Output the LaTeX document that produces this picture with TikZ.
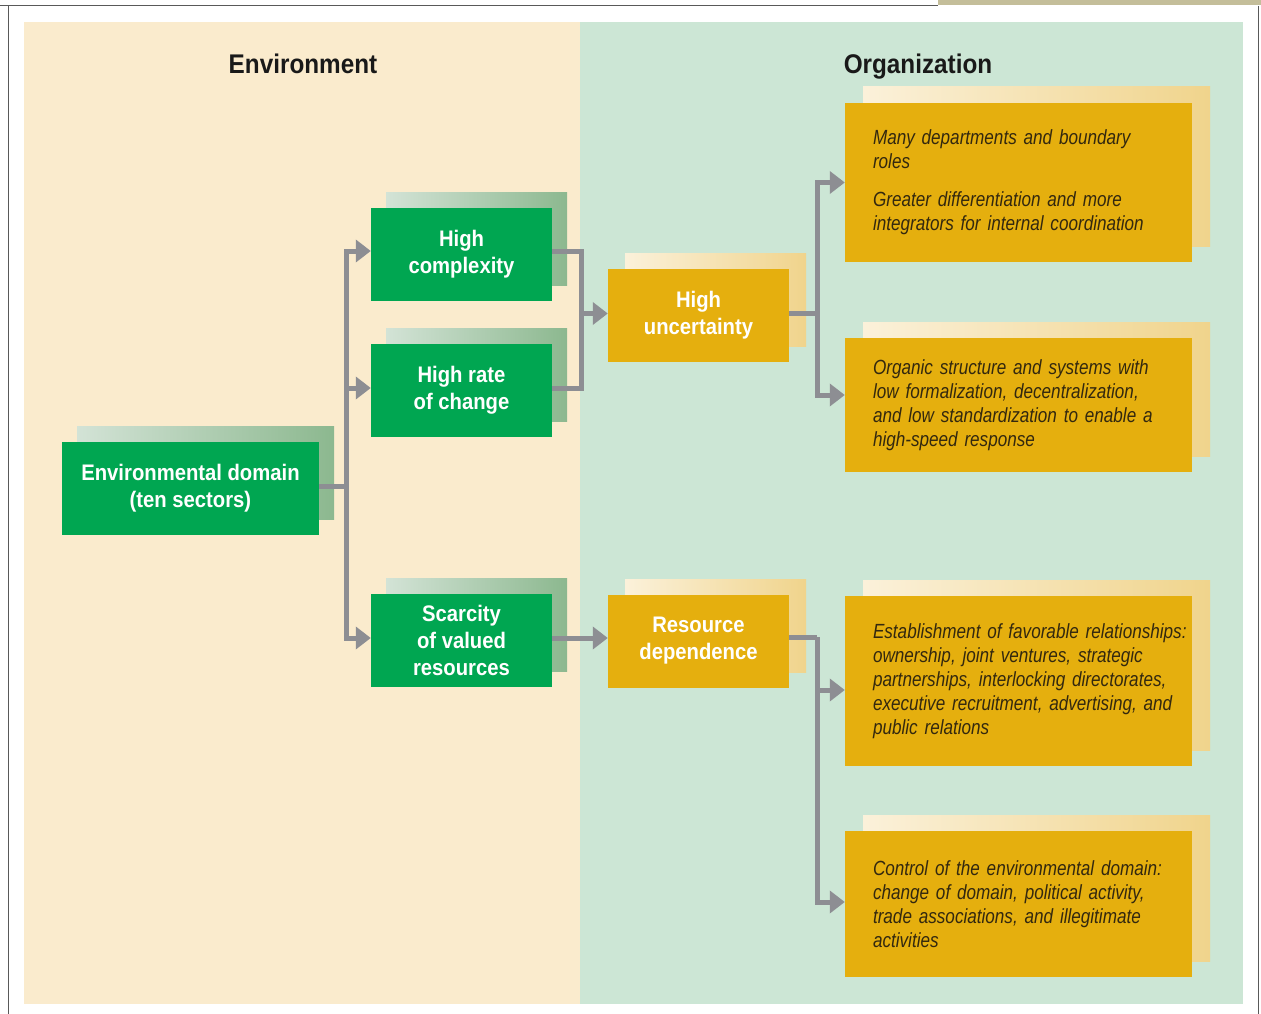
\documentclass[tikz,border=0pt]{standalone}
\usepackage{fontspec}
\setmainfont[FakeStretch=0.9]{Liberation Sans}
\newfontfamily\slimfont[FakeStretch=0.835]{Liberation Sans}
\usepackage{tikz}
\usetikzlibrary{positioning, shadows, calc, arrows.meta}
\definecolor{Sand}{HTML}{FAEBCD}
\definecolor{Mint}{HTML}{CCE6D5}
\definecolor{Leaf}{HTML}{00A651}
\definecolor{LeafLight}{HTML}{D3E3D6}
\definecolor{LeafDark}{HTML}{8CB88F}
\definecolor{Gold}{HTML}{E5AF0E}
\definecolor{GoldLight}{HTML}{FBF1DA}
\definecolor{GoldDark}{HTML}{F0D48C}
\definecolor{Pipe}{HTML}{8D8E93}
\definecolor{Ink}{HTML}{33280F}
\definecolor{Khaki}{HTML}{C4BE9A}
\newcommand{\padl}{\leftskip=24pt\relax}

\begin{document}
\begin{tikzpicture}[x=1pt, y=-1pt,
    greenbox/.style={rectangle, fill=Leaf, text=white, align=center, inner sep=0pt,
        font=\bfseries\fontsize{22.5}{27}\selectfont, minimum width=181, minimum height=93,
        general shadow={shadow xshift=15pt, shadow yshift=15pt, left color=LeafLight, right color=LeafDark}},
    goldbox/.style={rectangle, fill=Gold, text=white, align=center, inner sep=0pt,
        font=\bfseries\fontsize{22.5}{27}\selectfont, minimum width=181, minimum height=93,
        general shadow={shadow xshift=17pt, shadow yshift=15pt, left color=GoldLight, right color=GoldDark}},
    textbox/.style={rectangle, fill=Gold, text=Ink, align=left, inner xsep=4pt, inner ysep=0pt,
        text width=339, minimum width=347, font=\slimfont\itshape\fontsize{20.5}{24}\selectfont,
        general shadow={shadow xshift=18pt, shadow yshift=16pt, left color=GoldLight, right color=GoldDark}},
    pipe/.style={draw=Pipe, line width=5pt},
    arr/.style={pipe, -{Triangle[length=15pt, width=22pt]}},
    head/.style={anchor=base, font=\bfseries\fontsize{27}{32}\selectfont, text=black!90}]
\useasboundingbox (0,0) rectangle (1261,1014);

% frame and panels
\fill[Khaki] (938,0) rectangle (1261,5);
\draw[black!65, line width=1pt] (0,6) -- (938,6);
\draw[black!65, line width=1pt] (8,6) -- (8,1014);
\draw[black!65, line width=1pt] (1258,6) -- (1258,1014);
\fill[Sand] (24,22) rectangle (580,1004);
\fill[Mint] (580,22) rectangle (1243,1004);

\node[head] (envhead) at (303,74) {Environment};
\node[head] (orghead) at (918,74) {Organization};

% environment side
\node[greenbox, minimum width=257] (dom) at (190.5,488) {Environmental domain\\(ten sectors)};
\node[greenbox] (cplx) at (461.5,254) {High\\complexity};
\node[greenbox] (rate) at (461.5,390) {High rate\\of change};
\node[greenbox] (scar) at (461.5,640) {Scarcity\\of valued\\resources};

% organization side
\node[goldbox] (unc) at (698.5,315) {High\\uncertainty};
\node[goldbox] (res) at (698.5,641) {Resource\\dependence};

\node[textbox, minimum height=159] (r1) at (1018.5,182.5) {\padl
    Many departments and boundary\\roles\\[14pt]
    Greater differentiation and more\\integrators for internal coordination\par};
\node[textbox, minimum height=134] (r2) at (1018.5,405) {\padl
    Organic structure and systems with\\low formalization, decentralization,\\and low standardization to enable a\\high-speed response\par};
\node[textbox, minimum height=170] (r3) at (1018.5,681) {\padl
    Establishment of favorable relationships:\\ownership, joint ventures, strategic\\partnerships, interlocking directorates,\\executive recruitment, advertising, and\\public relations\par};
\node[textbox, minimum height=146] (r4) at (1018.5,904) {\padl
    Control of the environmental domain:\\change of domain, political activity,\\trade associations, and illegitimate\\activities\par};

% connectors
\coordinate (t1) at (346,486.5);
\coordinate (t2) at (581,313.5);
\coordinate (t3) at (817,313.5);
\coordinate (t4) at (817,637);

\draw[pipe] (dom.east |- t1) -- (t1);
\draw[arr] (t1) |- ([yshift=3pt]cplx.west);
\draw[arr] (t1) |- ([yshift=2pt]rate.west);
\draw[arr] (t1) |- ([yshift=2pt]scar.west);

\draw[pipe] ([yshift=3pt]cplx.east) -| (t2);
\draw[pipe] ([yshift=2pt]rate.east) -| (t2);
\draw[arr] (t2) -- (unc.west |- t2);
\draw[arr] ([yshift=2pt]scar.east) -- ([yshift=3pt]res.west);

\draw[pipe] (unc.east |- t3) -- (t3);
\draw[arr] (t3) |- (r1.west);
\draw[arr] (t3) |- ([yshift=10pt]r2.west);

\draw[pipe] (res.east |- t4) -- (t4);
\draw[arr] (t4) |- ([yshift=-9pt]r3.west);
\draw[arr] (t4) |- ([yshift=2pt]r4.west);
\end{tikzpicture}
\end{document}
